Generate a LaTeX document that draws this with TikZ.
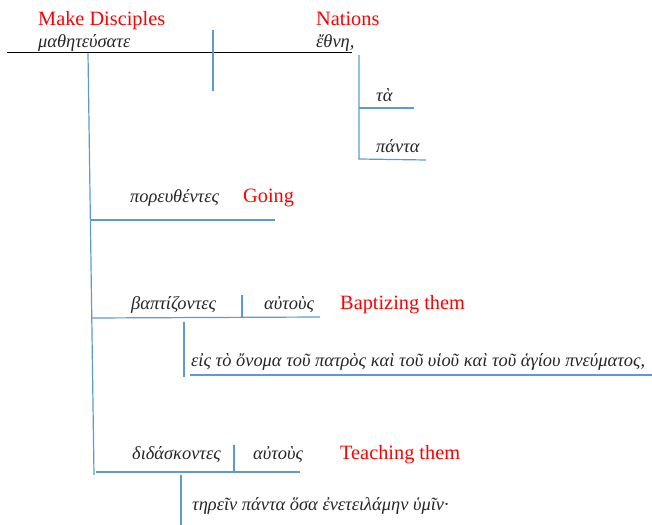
\documentclass[tikz,border=0pt]{standalone}
\usepackage{fontspec}
\setmainfont{Liberation Serif}
\definecolor{lineblue}{HTML}{5B9BD5}
\definecolor{grtext}{HTML}{262626}
\begin{document}
\begin{tikzpicture}[x=1bp,y=-1bp,
  eng/.style={text=red, font=\fontsize{20.4}{24}\selectfont, anchor=base west, inner sep=0pt},
  gr/.style={text=grtext, font=\fontsize{18.5}{22}\selectfont\itshape, anchor=base west, inner sep=0pt},
  bl/.style={draw=lineblue, line width=1.2bp},
  baseline/.style={draw=black, line width=1bp}]
\useasboundingbox (0,0) rectangle (652,525);
% main clause
\node[eng] (md) at (38,26) {Make Disciples};
\node[gr] (math) at (38,48) {μαθητεύσατε};
\node[eng] (nat) at (316,26) {Nations};
\node[gr] (eth) at (316,48) {ἔθνη,};
\coordinate (m0) at (7,53);
\coordinate (m1) at (352,53);
\draw[baseline] (m0) -- (m1);
\coordinate (d0) at (213,30);
\coordinate (d1) at (213,91);
\draw[bl] (d0) -- (d1);
% modifiers of nations
\node[gr] (ta) at (376,102) {τὰ};
\node[gr] (panta) at (376,153) {πάντα};
\coordinate (n0) at (359,55);
\coordinate (n1) at (359,159);
\coordinate (t1) at (414,108);
\coordinate (p1) at (426,160);
\draw[bl] (n0) -- (n1) -- (p1);
\draw[bl] (359,108) coordinate (t0) -- (t1);
% trunk
\coordinate (tr0) at (88,53);
\coordinate (tr1) at (94,475);
\draw[bl] (tr0) -- (tr1);
% going
\node[gr] (por) at (130,203) {πορευθέντες};
\node[eng] (go) at (243,203) {Going};
\coordinate (g0) at (90,220);
\coordinate (g1) at (275,220);
\draw[bl] (g0) -- (g1);
% baptizing
\node[gr] (bap) at (131,309) {βαπτίζοντες};
\node[gr] (aut1) at (264,309) {αὐτοὺς};
\node[eng] (bt) at (340,309) {Baptizing them};
\coordinate (b0) at (92,318);
\coordinate (b1) at (320,317);
\draw[bl] (b0) -- (b1);
\coordinate (bs0) at (242,295);
\coordinate (bs1) at (242,318);
\draw[bl] (bs0) -- (bs1);
\coordinate (bv0) at (184,322);
\coordinate (bv1) at (184,377);
\draw[bl] (bv0) -- (bv1);
\node[gr] (eis) at (191,366) {εἰς τὸ ὄνομα τοῦ πατρὸς καὶ τοῦ υἱοῦ καὶ τοῦ ἁγίου πνεύματος,};
\coordinate (e0) at (190,375);
\coordinate (e1) at (652,375);
\draw[bl] (e0) -- (e1);
% teaching
\node[gr] (did) at (132,459) {διδάσκοντες};
\node[gr] (aut2) at (253,459) {αὐτοὺς};
\node[eng] (tt) at (340,459) {Teaching them};
\coordinate (c0) at (96,472);
\coordinate (c1) at (300,472);
\draw[bl] (c0) -- (c1);
\coordinate (cs0) at (234,445);
\coordinate (cs1) at (234,473);
\draw[bl] (cs0) -- (cs1);
\coordinate (cv0) at (181,475);
\coordinate (cv1) at (181,525);
\draw[bl] (cv0) -- (cv1);
\node[gr] (ter) at (192,510) {τηρεῖν πάντα ὅσα ἐνετειλάμην ὑμῖν·};
\end{tikzpicture}
\end{document}
